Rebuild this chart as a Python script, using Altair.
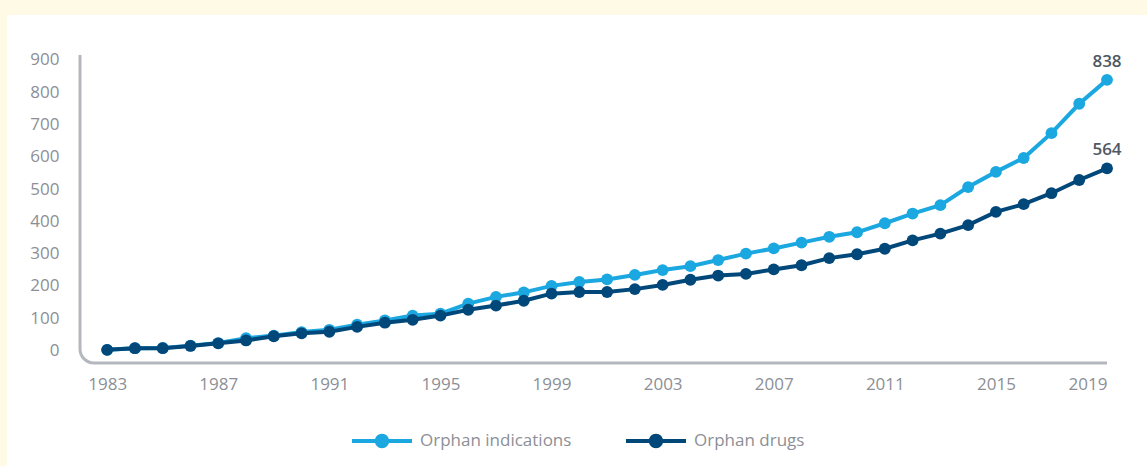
import altair as alt
import pandas as pd

years = list(range(1983, 2020))
indications = [2, 7, 8, 15, 23, 38, 46, 57, 64, 80, 93, 108, 114, 145, 166, 180, 200, 212,
               220, 234, 249, 261, 280, 300, 316, 334, 352, 366, 394, 424, 450, 506, 553,
               596, 673, 764, 838]
drugs = [2, 7, 7, 14, 22, 31, 44, 53, 58, 73, 86, 95, 108, 126, 139, 154, 176, 181,
         181, 190, 203, 219, 232, 237, 251, 264, 286, 298, 315, 341, 362, 388, 429,
         453, 487, 528, 564]
series_names = ["Orphan indications", "Orphan drugs"]
series_colors = ["#1BA7E0", "#00477A"]
x_ticks = [1983, 1987, 1991, 1995, 1999, 2003, 2007, 2011, 2015, 2019]
y_ticks = [0, 100, 200, 300, 400, 500, 600, 700, 800, 900]

rows = []
for y, a, b in zip(years, indications, drugs):
    rows.append({"year": y, "value": a, "series": series_names[0]})
    rows.append({"year": y, "value": b, "series": series_names[1]})
df = pd.DataFrame(rows)

FONT = "Open Sans"
GRAY = "#8C8F96"
BEIGE = "#FFFAE6"

xenc = alt.X("year:Q", scale=alt.Scale(domain=[1981.95, 2019], nice=False, zero=False),
             axis=alt.Axis(values=x_ticks, format="d", title=None, domain=False, ticks=False,
                           grid=False, labelFontSize=17, labelColor=GRAY, labelFont=FONT,
                           labelPadding=11))
yenc = alt.Y("value:Q", scale=alt.Scale(domain=[-45, 915], nice=False, zero=False),
             axis=alt.Axis(values=y_ticks, title=None, domain=False, ticks=False, grid=False,
                           labelFontSize=17, labelColor=GRAY, labelFont=FONT, labelPadding=19))
cscale = alt.Scale(domain=series_names, range=series_colors)

dummy = pd.DataFrame({"a": [0]})
top_strip = alt.Chart(dummy).mark_rect(fill=BEIGE).encode(
    x=alt.value(-80), x2=alt.value(1080), y=alt.value(-60), y2=alt.value(-40))
left_strip = alt.Chart(dummy).mark_rect(fill=BEIGE).encode(
    x=alt.value(-80), x2=alt.value(-71), y=alt.value(-60), y2=alt.value(420))
frame = alt.Chart(dummy).mark_rect(fill="transparent", stroke="#B5B7BE", strokeWidth=3,
                                   cornerRadiusBottomLeft=14, clip=True).encode(
    x=alt.value(2), x2=alt.value(1300), y=alt.value(-100), y2=alt.value(308))

symbol_path = ("M-1,-0.07L-0.2,-0.07L-0.2,0.07L-1,0.07Z "
               "M0.2,-0.07L1,-0.07L1,0.07L0.2,0.07Z "
               "M-0.24,0A0.24,0.24 0 1,1 0.24,0A0.24,0.24 0 1,1 -0.24,0Z")

leg = alt.Legend(title=None, orient="none", legendX=274, legendY=356,
                 direction="horizontal", symbolType=symbol_path, symbolSize=3600,
                 symbolStrokeWidth=0, symbolOpacity=1, labelFontSize=17,
                 labelColor=GRAY, labelFont=FONT, labelOffset=8, columnPadding=54,
                 padding=0)

layers = [top_strip, left_strip, frame]
for i, name in enumerate(series_names):
    base = alt.Chart(df).transform_filter(alt.datum.series == name)
    line = base.mark_line(strokeWidth=4, color=series_colors[i]).encode(x=xenc, y=yenc)
    pts = base.mark_point(filled=True, size=140, opacity=1, strokeWidth=0).encode(
        x=xenc, y=yenc, fill=alt.Fill("series:N", scale=cscale, legend=leg))
    layers += [line, pts]

labels = alt.Chart(df).transform_filter(alt.datum.year == 2019).mark_text(
    dy=-18, fontSize=17, fontWeight=600, color="#4E5764", font=FONT).encode(
    x=xenc, y=yenc, text=alt.Text("value:Q", format="d"))
layers.append(labels)

chart = alt.layer(*layers).properties(
    width=1029, height=310,
    autosize=alt.AutoSizeParams(type="none"),
    padding={"left": 78, "top": 55, "right": 40, "bottom": 101},
    background="white",
).configure_view(stroke=None)

chart.save("out.html", embed_options={"renderer": "svg", "actions": False})
